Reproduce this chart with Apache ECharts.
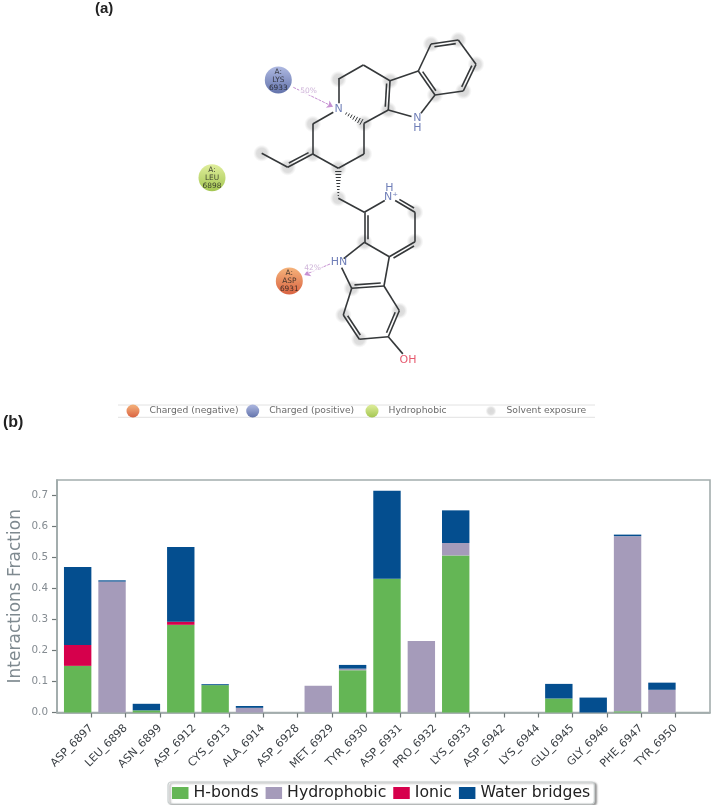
<!DOCTYPE html>
<html><head><meta charset="utf-8">
<style>html,body{margin:0;padding:0;background:#fff}#c{width:714px;height:805px;filter:blur(0.35px)}</style>
<script src="https://cdn.jsdelivr.net/npm/echarts@6/dist/echarts.min.js"></script>
</head><body><div id="c"></div>
<script>
// ---------- bar chart data ----------
const categories = ['ASP_6897','LEU_6898','ASN_6899','ASP_6912','CYS_6913','ALA_6914','ASP_6928','MET_6929','TYR_6930','ASP_6931','PRO_6932','LYS_6933','ASP_6942','LYS_6944','GLU_6945','GLY_6946','PHE_6947','TYR_6950'];
const hBonds      = [0.150,0,0.007,0.282,0.088,0,0,0,0.136,0.430,0,0.505,0,0,0.045,0,0.004,0];
const hydrophobic = [0,0.421,0,0,0,0.015,0,0.086,0.005,0,0.230,0.040,0,0,0,0,0.563,0.073];
const ionic       = [0.067,0,0,0.010,0,0,0,0,0,0,0,0,0,0,0,0,0,0];
const waterBridges= [0.251,0.004,0.021,0.240,0.003,0.006,0,0,0.012,0.283,0,0.105,0,0,0.047,0.048,0.005,0.023];
const yTicks = [0,0.1,0.2,0.3,0.4,0.5,0.6,0.7];

// ---------- interaction diagram data (image-space positions) ----------
const atoms = {
 a1:[431,44],a2:[458.3,40],a3:[476,64.3],a4:[463.3,91],a5:[435,95],a6:[418.3,71],
 a7:[390,80.7],a8:[388.3,110],nh1:[417.3,118],a9:[363.3,65],a10:[338.3,79.3],n1:[338.5,109.3],
 a11:[364,123.3],a12:[312.7,124],a13:[312.7,154],a14:[338.3,168.3],a15:[364,154],
 a16:[287.7,167.3],a17:[261.7,153.3],a18:[338.3,198.3],a19:[364.3,212.3],n2:[390,197.5],
 a20:[415,212.3],a21:[415,241.7],a22:[389.3,256.7],a23:[364.3,242.3],nh2:[339,262.3],
 a24:[351.7,288.3],a25:[384,286],a26:[399.3,310.7],a27:[388.3,336.7],a28:[359.3,339.3],a29:[343.3,315],oh:[408,360]
};
// [from, to, order, side of the inner stroke]
const bonds = [
 ['a1','a2',2,1],['a2','a3',1,0],['a3','a4',2,1],['a4','a5',1,0],['a5','a6',2,1],['a6','a1',1,0],
 ['a6','a7',1,0],['a7','a8',2,1],['a8','nh1',1,0],['nh1','a5',1,0],
 ['a7','a9',1,0],['a9','a10',1,0],['a10','n1',1,0],['a11','a8',1,0],
 ['n1','a12',1,0],['a12','a13',1,0],['a13','a14',1,0],['a14','a15',1,0],['a15','a11',1,0],
 ['a13','a16',2,1],['a16','a17',1,0],
 ['a18','a19',1,0],['a19','n2',1,0],['n2','a20',2,-1],['a20','a21',1,0],['a21','a22',2,-1],['a22','a23',1,0],['a23','a19',2,1],
 ['a23','nh2',1,0],['nh2','a24',1,0],['a24','a25',2,-1],['a25','a22',1,0],['a25','a26',1,0],['a26','a27',2,1],
 ['a27','a28',1,0],['a28','a29',2,1],['a29','a24',1,0],['a27','oh',1,0]
];
const hashBonds = [['a11','n1'],['a18','a14']];
const labelledAtoms = ['n1','nh1','n2','nh2','oh'];
const exposedAtoms = ['a1','a2','a3','a4','a5','a7','a8','a10','a11','a12','a13','a14','a15','a16','a17','a18','a20','a21','a23','a24','a26','a28','a29'];
const atomLabels = [['N',338.6,109.3,'#4c5fa6'],['N',417.3,118,'#4c5fa6'],['H',417.3,127.7,'#4c5fa6'],['H',389.3,188.3,'#4c5fa6'],['N⁺',391,197.5,'#4c5fa6'],['HN',339,262.3,'#4c5fa6'],['OH',408,360,'#e0304a']];
const residues = [
 ['A:\nLYS\n6933',278.3,80,'#9aa7da','#3c5096'],
 ['A:\nLEU\n6898',212,177.7,'#d8ea84','#8db826'],
 ['A:\nASP\n6931',289.3,281,'#f3a05a','#d03c12']
];
const contacts = [[[293.3,87.3],[333,106.7]],[[330,264],[304.3,275]]];
const contactLabels = [['50%',308.5,91],['42%',312.5,267.7]];
const keyItems = [['Charged (negative)',133,411,'#f3a05a','#d03c12'],['Charged (positive)',252.7,411,'#9aa7da','#3c5096'],['Hydrophobic',372,411,'#d8ea84','#8db826']];

// ---------- build ----------
function grad(a,b){return {type:'linear',x:0,y:0,x2:0,y2:1,colorStops:[{offset:0,color:a},{offset:1,color:b}]};}
function haloColor(){return {type:'radial',x:.5,y:.5,r:.5,colorStops:[{offset:0,color:'#cfcfcf'},{offset:.6,color:'#d6d6d6'},{offset:1,color:'rgba(225,225,225,0)'}]};}
const padded = a => [null].concat(a,[null]);
const bondLines=[];
bonds.forEach(([p,q,order,side])=>{
  let A=atoms[p],B=atoms[q];
  const dx=B[0]-A[0],dy=B[1]-A[1],L=Math.hypot(dx,dy),ux=dx/L,uy=dy/L;
  const sa=labelledAtoms.includes(p)?(p==='oh'?8:6):0, sb=labelledAtoms.includes(q)?(q==='oh'?8:6):0;
  const S=[A[0]+ux*sa,A[1]+uy*sa],E=[B[0]-ux*sb,B[1]-uy*sb];
  bondLines.push({coords:[S,E]});
  if(order===2){
    const nx=-uy*3.2*side,ny=ux*3.2*side;
    bondLines.push({coords:[[S[0]+nx+ux*3,S[1]+ny+uy*3],[E[0]+nx-ux*3,E[1]+ny-uy*3]]});
  }
});
hashBonds.forEach(([p,q])=>{
  const A=atoms[p],B=atoms[q],dx=B[0]-A[0],dy=B[1]-A[1],L=Math.hypot(dx,dy),ux=dx/L,uy=dy/L;
  const steps=Math.round(L/2.9);
  for(let i=1;i<steps;i++){
    const t=i/steps; if(p==='a11'&&t>.78) break;
    const w=(p==='a11'?(1-t):t)*3.2+.3;
    const x=A[0]+dx*t,y=A[1]+dy*t;
    bondLines.push({coords:[[x-uy*w,y+ux*w],[x+uy*w,y-ux*w]],lineStyle:{width:1}});
  }
});
const px={xAxisIndex:1,yAxisIndex:1,silent:true,animation:false};
const F='"DejaVu Sans"';
const barCommon={type:'bar',stack:'total',barWidth:27.4,barGap:0,animation:false,xAxisIndex:0,yAxisIndex:0};
const option={
 backgroundColor:'#fff',animation:false,
 grid:[{left:57,top:480,width:653,height:232.5,outerBoundsMode:'none',show:true,borderColor:'#a3adad',borderWidth:1.6,backgroundColor:'transparent',z:1},
       {left:0,top:0,width:714,height:805,outerBoundsMode:'none',show:false}],
 xAxis:[{type:'category',gridIndex:0,boundaryGap:false,data:[''].concat(categories,['']),
   axisLine:{lineStyle:{color:'#8f9a9a',width:1.6}},
   axisTick:{length:5,interval:(i)=>i>0&&i<categories.length+1,lineStyle:{color:'#6f7878',width:1.2}},
   axisLabel:{interval:0,rotate:45,fontFamily:F,fontSize:11,color:'#3a3f44',margin:14}},
  {type:'value',gridIndex:1,min:0,max:714,show:false}],
 yAxis:[{type:'value',gridIndex:0,min:0,max:0.7476,interval:0.1,
   name:'Interactions Fraction',nameLocation:'middle',nameGap:33,nameMoveOverlap:false,nameTextStyle:{fontFamily:F,fontSize:17,color:'#7f8a90'},
   axisLine:{show:true,lineStyle:{color:'#8f9a9a',width:1.6}},splitLine:{show:false},
   axisTick:{show:true,length:5,customValues:yTicks,lineStyle:{color:'#6f7878',width:1.2}},
   axisLabel:{customValues:yTicks,fontFamily:F,fontSize:10.4,color:'#858c92',margin:9,formatter:v=>v.toFixed(1)}},
  {type:'value',gridIndex:1,min:0,max:805,inverse:true,show:false}],
 legend:{data:['H-bonds','Hydrophobic','Ionic','Water bridges'],left:168,top:782,padding:[3,4,3,4],itemWidth:16.5,itemHeight:12,itemGap:7,
   icon:'rect',textStyle:{fontFamily:F,fontSize:15.7,color:'#222'},backgroundColor:'#fff',borderColor:'#c9cfcf',borderWidth:1.2,borderRadius:3,
   shadowColor:'rgba(90,90,90,.6)',shadowBlur:2,shadowOffsetX:2,shadowOffsetY:1,selectedMode:false},
 graphic:[
  {type:'text',left:95,top:1,style:{text:'(a)',font:'bold 15px "Liberation Sans"',fill:'#222'}},
  {type:'text',left:3,top:415,style:{text:'(b)',font:'bold 16px "Liberation Sans"',fill:'#222'}},
  {type:'line',shape:{x1:118,y1:405,x2:595,y2:405},style:{stroke:'#e2e2e2',lineWidth:1}},
  {type:'line',shape:{x1:118,y1:417.3,x2:595,y2:417.3},style:{stroke:'#e2e2e2',lineWidth:1}}
 ],
 series:[
  Object.assign({},barCommon,{name:'H-bonds',data:padded(hBonds),itemStyle:{color:'#64b655'}}),
  Object.assign({},barCommon,{name:'Hydrophobic',data:padded(hydrophobic),itemStyle:{color:'#a59bba'}}),
  Object.assign({},barCommon,{name:'Ionic',data:padded(ionic),itemStyle:{color:'#d6004c'}}),
  Object.assign({},barCommon,{name:'Water bridges',data:padded(waterBridges),itemStyle:{color:'#044e8f'}}),
  Object.assign({},barCommon,{name:'spacer',stack:'spacer',data:padded(categories.map(()=>null))}),
  // diagram
  Object.assign({},px,{type:'scatter',name:'Solvent exposure',z:2,symbolSize:17,data:exposedAtoms.map(k=>atoms[k]),itemStyle:{color:haloColor()}}),
  Object.assign({},px,{type:'lines',name:'bonds',coordinateSystem:'cartesian2d',z:3,polyline:false,lineStyle:{color:'#35383a',width:1.6,opacity:1},data:bondLines}),
  Object.assign({},px,{type:'lines',name:'contacts',coordinateSystem:'cartesian2d',z:3,symbol:['none','arrow'],symbolSize:6,
     lineStyle:{color:'#c690d2',width:1,type:[3,1],opacity:1},data:contacts.map(c=>({coords:c}))}),
  Object.assign({},px,{type:'scatter',name:'atom labels',z:4,symbolSize:1,itemStyle:{color:'transparent'},
     data:atomLabels.map(a=>({value:[a[1],a[2]],label:{show:true,position:'inside',formatter:a[0],fontFamily:F,fontSize:11,color:a[3]}}))}),
  Object.assign({},px,{type:'scatter',name:'contact labels',z:4,symbolSize:1,itemStyle:{color:'transparent'},
     data:contactLabels.map(a=>({value:[a[1],a[2]],label:{show:true,position:'inside',formatter:a[0],fontFamily:F,fontSize:7.5,color:'#c3a2cf',backgroundColor:'#fff',padding:[0,1]}}))}),
  Object.assign({},px,{type:'scatter',name:'residues',z:5,symbolSize:27,
     data:residues.map(r=>({value:[r[1],r[2]],itemStyle:{color:grad(r[3],r[4])},label:{show:true,position:'inside',formatter:r[0],fontFamily:F,fontSize:7.4,lineHeight:8,color:'#1c1c1c'}}))}),
  Object.assign({},px,{type:'scatter',name:'key',z:5,symbolSize:13,
     data:keyItems.map(r=>({value:[r[1],r[2]],itemStyle:{color:grad(r[3],r[4])},label:{show:true,position:'right',distance:10,formatter:r[0],fontFamily:F,fontSize:9.2,color:'#444'}}))}),
  Object.assign({},px,{type:'scatter',name:'key solvent',z:5,symbolSize:11,
     data:[{value:[491,411],itemStyle:{color:haloColor()},label:{show:true,position:'right',distance:10,formatter:'Solvent exposure',fontFamily:F,fontSize:9.2,color:'#444'}}]})
 ]
};
const chart=echarts.init(document.getElementById('c'),null,{renderer:'canvas'});
chart.setOption(option);
</script></body></html>
